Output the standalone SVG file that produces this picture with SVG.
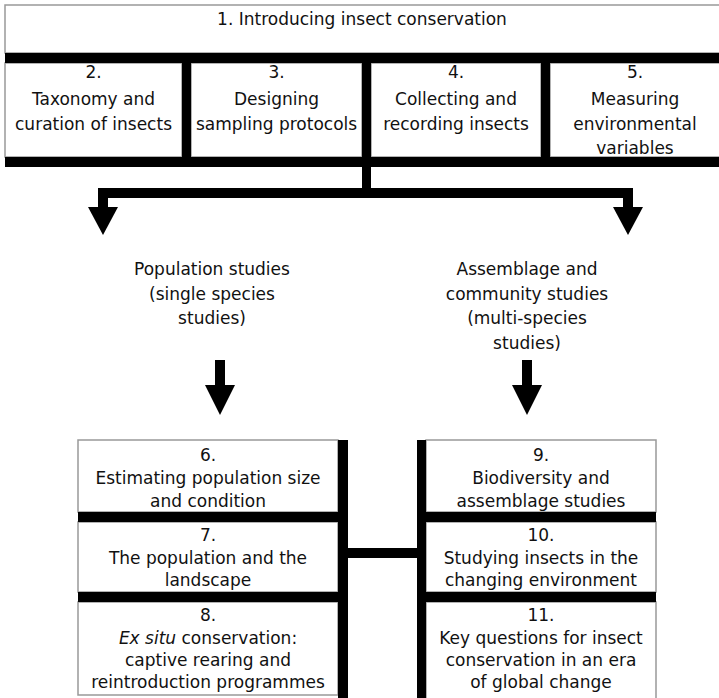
<svg xmlns="http://www.w3.org/2000/svg" width="719" height="698" viewBox="0 0 719 698">
<style>
.box{fill:#fff;stroke:#999;stroke-width:1.5}
.bar{fill:#000}
text{font-family:"DejaVu Sans","Liberation Sans",sans-serif;font-size:17px;fill:#111;text-anchor:middle}
</style>
<rect width="719" height="698" fill="#fff"/>
<g id="n1">
<rect class="box" x="5" y="5" width="720" height="48"/>
<text x="362" y="25">1. Introducing insect conservation</text>
</g>
<g id="n2">
<rect class="box" x="5" y="63" width="177" height="94"/>
<text x="93.5" y="78">2.</text>
<text x="93.5" y="105">Taxonomy and</text>
<text x="93.5" y="129.5">curation of insects</text>
</g>
<g id="n3">
<rect class="box" x="191" y="63" width="171" height="94"/>
<text x="276.5" y="78">3.</text>
<text x="276.5" y="105">Designing</text>
<text x="276.5" y="129.5">sampling protocols</text>
</g>
<g id="n4">
<rect class="box" x="371" y="63" width="170" height="94"/>
<text x="456" y="78">4.</text>
<text x="456" y="105">Collecting and</text>
<text x="456" y="129.5">recording insects</text>
</g>
<g id="n5">
<rect class="box" x="550" y="63" width="175" height="94"/>
<text x="635" y="78">5.</text>
<text x="635" y="105">Measuring</text>
<text x="635" y="129.5">environmental</text>
<text x="635" y="153.5">variables</text>
</g>
<g id="pop">
<text x="212" y="275">Population studies</text>
<text x="212" y="299.5">(single species</text>
<text x="212" y="324">studies)</text>
</g>
<g id="assem">
<text x="527" y="275">Assemblage and</text>
<text x="527" y="299.5">community studies</text>
<text x="527" y="324">(multi-species</text>
<text x="527" y="348.5">studies)</text>
</g>
<g id="n6">
<rect class="box" x="78" y="440" width="260" height="72"/>
<text x="208" y="461">6.</text>
<text x="208" y="484">Estimating population size</text>
<text x="208" y="507">and condition</text>
</g>
<g id="n7">
<rect class="box" x="78" y="522" width="260" height="70"/>
<text x="208" y="541">7.</text>
<text x="208" y="564">The population and the</text>
<text x="208" y="586">landscape</text>
</g>
<g id="n8">
<rect class="box" x="78" y="602" width="260" height="93"/>
<text x="208" y="621">8.</text>
<text x="208" y="643.5"><tspan font-style="italic">Ex situ</tspan> conservation:</text>
<text x="208" y="666">captive rearing and</text>
<text x="208" y="688">reintroduction programmes</text>
</g>
<g id="n9">
<rect class="box" x="426" y="440" width="230" height="72"/>
<text x="541" y="461">9.</text>
<text x="541" y="484">Biodiversity and</text>
<text x="541" y="507">assemblage studies</text>
</g>
<g id="n10">
<rect class="box" x="426" y="522" width="230" height="70"/>
<text x="541" y="541">10.</text>
<text x="541" y="564">Studying insects in the</text>
<text x="541" y="586">changing environment</text>
</g>
<g id="n11">
<rect class="box" x="426" y="602" width="230" height="100"/>
<text x="541" y="621">11.</text>
<text x="541" y="643.5">Key questions for insect</text>
<text x="541" y="666">conservation in an era</text>
<text x="541" y="688">of global change</text>
</g>
<g id="connectors">
<rect class="bar" x="5" y="53" width="714" height="10"/>
<rect class="bar" x="5" y="157" width="714" height="10"/>
<rect class="bar" x="182" y="63" width="9" height="94"/>
<rect class="bar" x="362" y="63" width="9" height="94"/>
<rect class="bar" x="541" y="63" width="9" height="94"/>
<rect class="bar" x="362" y="167" width="9" height="22"/>
<rect class="bar" x="98" y="188" width="535" height="10"/>
<rect class="bar" x="98" y="198" width="10" height="10"/>
<polygon class="bar" points="88,207 118,207 103,235"/>
<rect class="bar" x="623" y="198" width="10" height="10"/>
<polygon class="bar" points="613,207 643,207 628,235"/>
<rect class="bar" x="215" y="360" width="10" height="26"/>
<polygon class="bar" points="205,385 235,385 220,415"/>
<rect class="bar" x="522" y="360" width="10" height="26"/>
<polygon class="bar" points="512,385 542,385 527,415"/>
<rect class="bar" x="78" y="512" width="260" height="10"/>
<rect class="bar" x="78" y="592" width="260" height="10"/>
<rect class="bar" x="338" y="440" width="10" height="258"/>
<rect class="bar" x="348" y="548" width="69" height="10"/>
<rect class="bar" x="417" y="440" width="9" height="258"/>
<rect class="bar" x="426" y="512" width="230" height="10"/>
<rect class="bar" x="426" y="592" width="230" height="10"/>
</g>
</svg>
